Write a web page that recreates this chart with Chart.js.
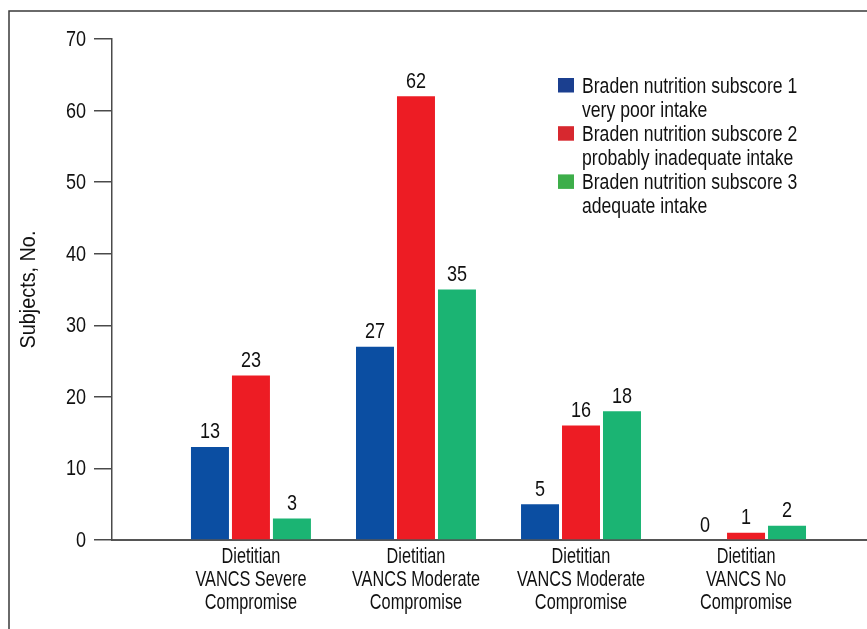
<!DOCTYPE html>
<html>
<head>
<meta charset="utf-8">
<script src="https://cdn.jsdelivr.net/npm/chart.js@4/dist/chart.umd.min.js"></script>
<style>
  html, body { margin: 0; padding: 0; background: #fff; }
  canvas { display: block; }
</style>
</head>
<body>
<canvas id="c" width="867" height="629"></canvas>
<script>
// Category labels (each line drawn on its own row under the axis)
const categories = [
  ["Dietitian", "VANCS Severe", "Compromise"],
  ["Dietitian", "VANCS Moderate", "Compromise"],
  ["Dietitian", "VANCS Moderate", "Compromise"],
  ["Dietitian", "VANCS No", "Compromise"]
];

// Series names (two lines each in the legend)
const seriesNames = [
  ["Braden nutrition subscore 1", "very poor intake"],
  ["Braden nutrition subscore 2", "probably inadequate intake"],
  ["Braden nutrition subscore 3", "adequate intake"]
];

// Subject counts per category
const subscore1 = [13, 27, 5, 0];
const subscore2 = [23, 62, 16, 1];
const subscore3 = [3, 35, 18, 2];

// Y axis tick values
const yTicks = [0, 10, 20, 30, 40, 50, 60, 70];

const barColors = ["#0B4EA2", "#ED1C24", "#1BB473"];
const swatchColors = ["#1B3F8F", "#D7282F", "#3DAE4A"];

// No condensed face is installed, so text is narrowed horizontally around
// its anchor point. Each font family list below gets its own width factor.
const F_NUM = "'Liberation Sans', Arial, sans-serif";      // tick and value numbers
const F_CAT = "'Liberation Sans', Arimo, sans-serif";      // category labels
const F_LEG = "'Liberation Sans', sans-serif";             // legend text
const F_TTL = "'Liberation Sans', Helvetica, sans-serif";  // axis title

function narrowFactor(font) {
  if (font.includes("Arimo")) return 0.74;
  if (font.includes("Helvetica")) return 0.90;
  if (font.includes("Arial")) return 0.82;
  if (font.includes("Liberation Sans")) return 0.80;
  return 1;
}

(function () {
  const P = CanvasRenderingContext2D.prototype;
  const fill = P.fillText;
  const measure = P.measureText;
  P.fillText = function (text, x, y, maxWidth) {
    const k = narrowFactor(this.font);
    if (k === 1) return fill.call(this, text, x, y, maxWidth);
    this.save();
    this.translate(x, y);
    this.scale(k, 1);
    fill.call(this, text, 0, 0);
    this.restore();
  };
  P.measureText = function (text) {
    const m = measure.call(this, text);
    const k = narrowFactor(this.font);
    if (k === 1) return m;
    return {
      width: m.width * k,
      actualBoundingBoxAscent: m.actualBoundingBoxAscent,
      actualBoundingBoxDescent: m.actualBoundingBoxDescent,
      actualBoundingBoxLeft: m.actualBoundingBoxLeft * k,
      actualBoundingBoxRight: m.actualBoundingBoxRight * k
    };
  };
})();

const TEXT = "#111111";
const AXIS = "#4a4a4a";

// Outer figure frame (top and left edges)
const framePlugin = {
  id: "frame",
  beforeDraw(chart) {
    const ctx = chart.ctx;
    ctx.save();
    ctx.strokeStyle = "#3a3a3a";
    ctx.lineWidth = 1.5;
    ctx.beginPath();
    ctx.moveTo(9, chart.height + 2);
    ctx.lineTo(9, 11);
    ctx.lineTo(chart.width + 2, 11);
    ctx.stroke();
    ctx.restore();
  }
};

// Numbers printed above each bar
const valueLabels = {
  id: "valueLabels",
  afterDatasetsDraw(chart) {
    const ctx = chart.ctx;
    ctx.save();
    ctx.font = "22px " + F_NUM;
    ctx.fillStyle = TEXT;
    ctx.textAlign = "center";
    ctx.textBaseline = "alphabetic";
    chart.data.datasets.forEach((ds, di) => {
      const meta = chart.getDatasetMeta(di);
      meta.data.forEach((el, i) => {
        ctx.fillText(String(ds.data[i]), el.x, el.y - 8.5);
      });
    });
    ctx.restore();
  }
};

// Legend block with square swatches and two-line entries
const sideLegend = {
  id: "sideLegend",
  afterDraw(chart) {
    const ctx = chart.ctx;
    const x0 = 558, base0 = 92.5, lh = 24.1;
    ctx.save();
    ctx.font = "22px " + F_LEG;
    ctx.textAlign = "left";
    ctx.textBaseline = "alphabetic";
    let line = 0;
    chart.data.datasets.forEach((ds, di) => {
      const base = base0 + line * lh;
      ctx.fillStyle = swatchColors[di];
      ctx.fillRect(x0, base - 14.5, 16, 14.5);
      ctx.fillStyle = TEXT;
      ds.label.forEach((t, k) => {
        ctx.fillText(t, x0 + 24, base + k * lh);
      });
      line += ds.label.length;
    });
    ctx.restore();
  }
};

new Chart(document.getElementById("c"), {
  type: "bar",
  data: {
    labels: categories.map((_, i) => i),
    datasets: [subscore1, subscore2, subscore3].map((vals, i) => ({
      label: seriesNames[i],
      data: vals,
      backgroundColor: barColors[i],
      borderWidth: 0,
      categoryPercentage: 0.745,
      barPercentage: 0.927
    }))
  },
  options: {
    responsive: false,
    devicePixelRatio: 1,
    animation: false,
    layout: { padding: { top: 39, right: 0, bottom: 0, left: 0 } },
    plugins: {
      legend: { display: false },
      tooltip: { enabled: false }
    },
    scales: {
      x: {
        type: "linear",
        offset: false,
        min: -0.842,
        max: 3.733,
        grid: { display: false, drawTicks: false },
        border: { display: true, color: "#555555", width: 2 },
        afterBuildTicks(scale) {
          scale.ticks = categories.map((_, i) => ({ value: i }));
        },
        afterFit(scale) { scale.height = 89; },
        ticks: {
          autoSkip: false,
          maxRotation: 0,
          padding: 5,
          color: TEXT,
          font: { family: F_CAT, size: 22, lineHeight: 1.05 },
          callback: (v) => categories[v]
        }
      },
      y: {
        min: 0,
        max: 70,
        afterBuildTicks(scale) {
          scale.ticks = yTicks.map(v => ({ value: v }));
        },
        afterFit(scale) { scale.width = 112; },
        grid: {
          drawOnChartArea: false,
          drawTicks: true,
          tickLength: 18,
          color: AXIS,
          lineWidth: 1.5
        },
        border: { display: true, color: AXIS, width: 1.5 },
        ticks: {
          padding: 8,
          labelOffset: 1,
          color: TEXT,
          font: { family: F_NUM, size: 22 }
        },
        title: {
          display: true,
          text: "Subjects, No.",
          color: TEXT,
          font: { family: F_TTL, size: 22 },
          padding: { top: 16, bottom: 0 }
        }
      }
    }
  },
  plugins: [framePlugin, valueLabels, sideLegend]
});
</script>
</body>
</html>
